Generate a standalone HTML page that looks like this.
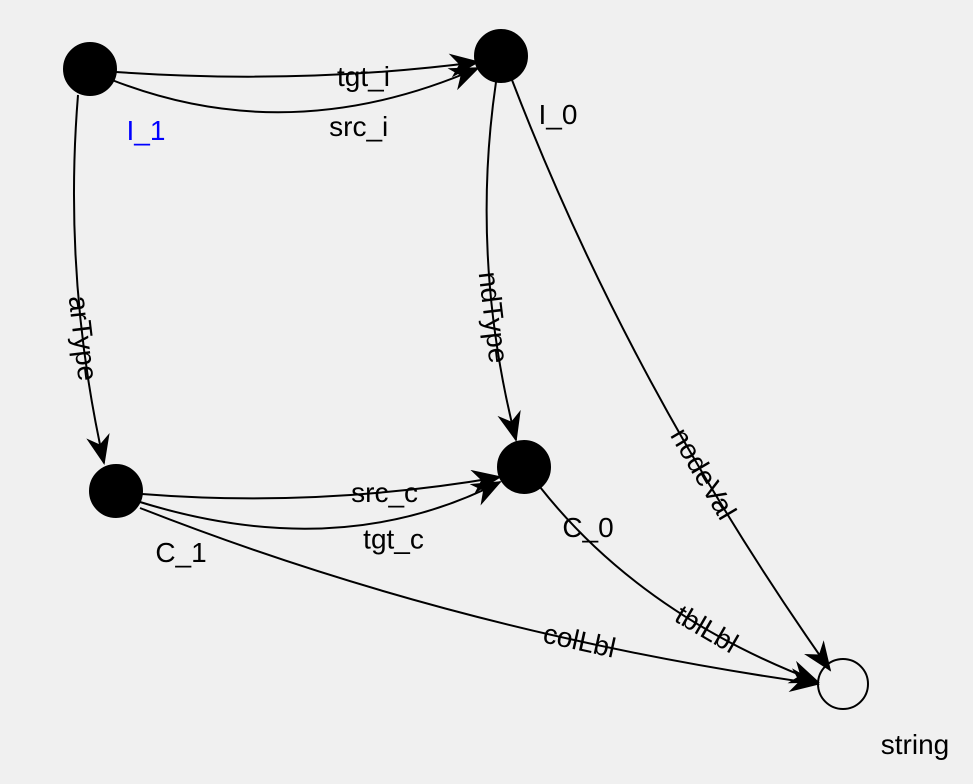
<!DOCTYPE html>
<html><head><meta charset="utf-8"><style>
html,body{margin:0;padding:0;background:#f0f0f0;}
svg{display:block;font-family:"Liberation Sans",Arial,sans-serif;}
</style></head><body>
<svg id="g" width="973" height="784">
<defs><marker id="arr" viewBox="0 0 30 24" refX="28" refY="12" markerWidth="30" markerHeight="24" markerUnits="userSpaceOnUse" orient="auto"><path d="M0,0 L30,12 L0,24 L9,12 Z" fill="#000"/></marker></defs>
</svg>
<script>
const nodeNames=["I_1","I_0","C_1","C_0","string"];
const nodeX=[90,501,116,524,843];
const nodeY=[69,56,491,467,684];
const nodeFilled=[1,1,1,1,0];
const nodeLabelX=[146,558,181,588,915];
const nodeLabelY=[140,124,562,537,754];
const nodeLabelColor=["#0000ff","#000","#000","#000","#000"];
const edgeLabels=["tgt_i","src_i","arType","ndType","nodeVal","src_c","tgt_c","colLbl","tblLbl"];
const edgeFrom=[0,0,0,1,1,2,2,2,3];
const edgeTo=[1,1,2,3,4,3,3,4,4];
const edgeStart=[[116,72],[112,80],[78,95],[496,82],[512,80],[142,494],[140,502],[140,508],[540,487]];
const edgeEnd=[[478,62],[478,68],[104,463],[516,440],[830,670],[500,477],[500,482],[818,684],[818,682]];
const edgeCtrl=[[300,85],[290,150],[63,280],[470,259],[629,385],[319,508],[340,564],[461,634],[641,615]];
const edgeLabelFlat=[1,1,0,0,0,1,1,0,0];
const edgeLabelShift=[3,21,0,0,0,0,19,0,0];
const NS="http://www.w3.org/2000/svg";
const svg=document.getElementById("g");
function mk(t,a){const e=document.createElementNS(NS,t);for(const k in a)e.setAttribute(k,a[k]);return e;}
edgeLabels.forEach((lab,i)=>{
  const s=edgeStart[i],e=edgeEnd[i],c=edgeCtrl[i];
  const p=mk("path",{d:`M${s[0]},${s[1]} Q${c[0]},${c[1]} ${e[0]},${e[1]}`,fill:"none",stroke:"#000","stroke-width":2,"marker-end":"url(#arr)"});
  
  
  svg.appendChild(p);
  const t=edgeLabelFlat[i]?0.68:0.66,u=1-t;
  const x=u*u*s[0]+2*u*t*c[0]+t*t*e[0], y=u*u*s[1]+2*u*t*c[1]+t*t*e[1];
  const dx=2*u*(c[0]-s[0])+2*t*(e[0]-c[0]), dy=2*u*(c[1]-s[1])+2*t*(e[1]-c[1]);
  let ang=Math.atan2(dy,dx)*180/Math.PI;
  let yo=9;
  if(edgeLabelFlat[i]){ang=0;yo=10+edgeLabelShift[i];}
  const tx=mk("text",{x:0,y:yo,"text-anchor":"middle","font-size":28,fill:"#000",transform:`translate(${x},${y}) rotate(${ang})`});
  tx.textContent=lab;
  
  
  svg.appendChild(tx);
});
nodeNames.forEach((n,i)=>{
  const c=mk("circle",{cx:nodeX[i],cy:nodeY[i],r:nodeFilled[i]?26:25,fill:nodeFilled[i]?"#000":"none",stroke:"#000","stroke-width":2});
  
  
  svg.appendChild(c);
  const t=mk("text",{x:nodeLabelX[i],y:nodeLabelY[i],"text-anchor":"middle","font-size":28,fill:nodeLabelColor[i]});
  t.textContent=n;
  
  
  svg.appendChild(t);
});
</script>
</body></html>
